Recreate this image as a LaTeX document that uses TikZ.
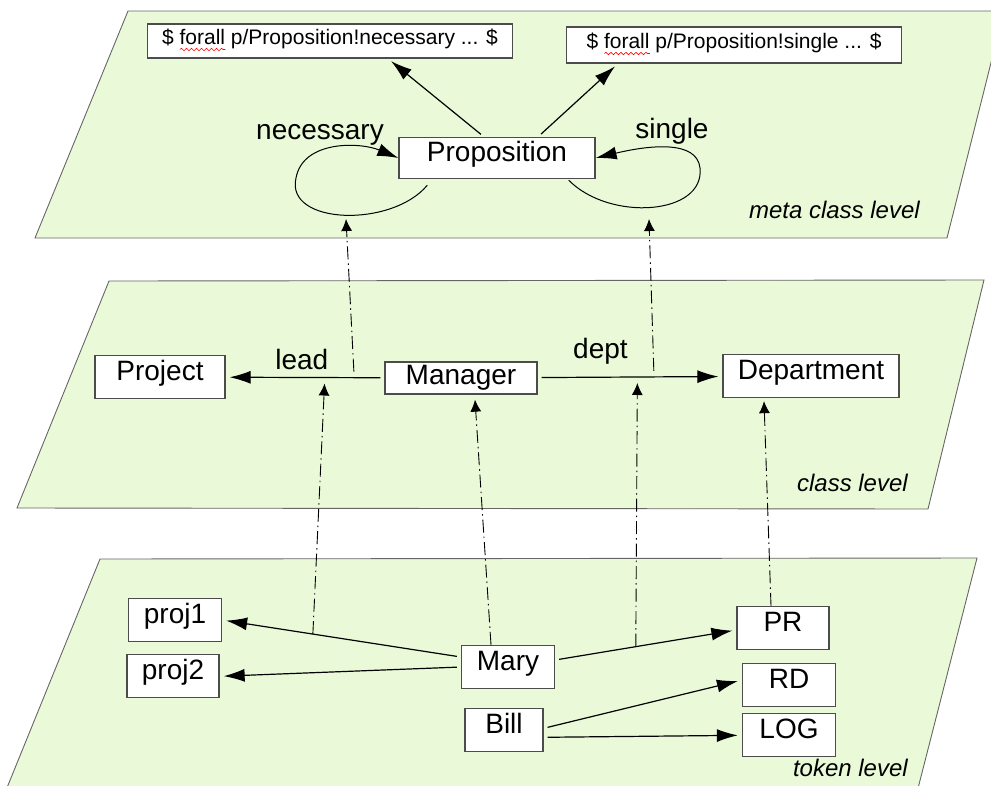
\documentclass[tikz,border=0pt]{standalone}
\usepackage{fontspec}
\setmainfont{Liberation Sans}
\usetikzlibrary{arrows.meta,positioning,decorations.pathmorphing}
\definecolor{planegreen}{RGB}{234,250,216}
\newcommand{\boxfont}{\fontsize{28}{32}\selectfont}
\newcommand{\formfont}{\fontsize{21}{25}\selectfont}
\newcommand{\levelfont}{\fontsize{24}{28}\selectfont\itshape}
% red wavy underline as left by the spell checker
\newsavebox{\errbox}
\newcommand{\spellerr}[1]{\sbox{\errbox}{#1}\rlap{\tikz[baseline=0pt]\draw[red, line width=0.6pt,
	decorate, decoration={snake, amplitude=1.2pt, segment length=5pt}] (0pt,-5pt) -- (\wd\errbox,-5pt);}\usebox{\errbox}}

\begin{document}
\begin{tikzpicture}[x=1pt,y=-1pt,>={Latex[length=21pt,width=13pt]}]
	\tikzset{plane/.style={draw=black!60, fill=planegreen, line width=0.9pt},
		box/.style={draw=black!70, fill=white, line width=1.3pt, inner sep=0pt, minimum height=43pt,
			text height=20pt, text depth=14pt, font=\boxfont},
		formula/.style={box, minimum height=34pt, text height=15pt, text depth=8pt, font=\formfont},
		assoc/.style={->, line width=1.2pt, shorten >=4pt, shorten <=4pt},
		instof/.style={-{Latex[length=12pt,width=11pt]}, line width=0.9pt, dash pattern=on 13pt off 4pt on 1.5pt off 4pt},
		lbl/.style={font=\boxfont, inner sep=0pt},
		level/.style={font=\levelfont, anchor=base east, inner sep=0pt},
	}
	\useasboundingbox (0,0) rectangle (991,785);
	\clip (0,0) rectangle (991,785);
	% the three levels
	\draw[plane] (128,11) -- (1004,11) -- (947,238) -- (35,238) -- cycle;
	\draw[plane] (109,281) -- (984,280) -- (928,509) -- (17,508) -- cycle;
	\draw[plane] (100,559) -- (977,558) -- (915,800) -- (2,800) -- cycle;

	% meta class level
	\node[box, minimum width=196pt, minimum height=41pt] (prop) at (497,158) {Proposition};
	\node[formula, minimum width=365pt] (nec) at (330,41) {\$ \spellerr{forall} p/Proposition!necessary ... \$};
	\node[formula, minimum width=335pt, minimum height=36pt] (sgl) at (734,45) {\$ \spellerr{forall} p/Proposition!single ... \$};
	\draw[assoc] ([xshift=-13pt]prop.north) -- ([xshift=58pt]nec.south);
	\draw[assoc] ([xshift=41pt]prop.north) -- ([xshift=-116pt]sgl.south);
	\draw[->, line width=1pt] ([xshift=29pt,yshift=-6pt]prop.south west) .. controls (392,228) and (285,225) .. (296,178)
		.. controls (303,140) and (360,142) .. (prop.west);
	\draw[->, line width=1pt] ([xshift=-27pt,yshift=-1pt]prop.south east) .. controls (610,222) and (705,215) .. (700,168)
		.. controls (697,140) and (650,145) .. (prop.east);
	\coordinate (necloop) at (346,219);
	\coordinate (sglloop) at (649,219);
	\node[lbl] (necl) at (320,135) {necessary};
	\node[lbl] (sgll) at (672,131) {single};
	\node[level] (metalvl) at (920,218) {meta class level};

	% class level
	\node[box, minimum width=152pt, minimum height=32pt, text depth=8pt] (mgr) at (461,378) {Manager};
	\node[box, minimum width=130pt] (proj) at (160,377) {Project};
	\node[box, minimum width=176pt] (dept) at (811,376) {Department};
	\draw[assoc] (mgr) -- coordinate[pos=0.19] (leadup) coordinate[pos=0.375] (leaddn)
		node[lbl, pos=0.52, above=7pt] (leadl) {lead} (proj);
	\draw[assoc] (mgr) -- coordinate[pos=0.63] (deptup) coordinate[pos=0.54] (deptdn)
		node[lbl, pos=0.34, above=12pt] (deptl) {dept} (dept);
	\node[level] (clslvl) at (908,491) {class level};

	% token level
	\node[box, minimum width=93pt] (mary) at (508,667) {Mary};
	\node[box, minimum width=78pt, below=19pt of mary, xshift=-4pt] (bill) {Bill};
	\node[box, minimum width=93pt] (proj1) at (175,620) {proj1};
	\node[box, minimum width=92pt, below=12pt of proj1, xshift=-2pt] (proj2) {proj2};
	\node[box, minimum width=92pt] (pr) at (783,628) {PR};
	\node[box, minimum width=93pt] (rd) at (789,685) {RD};
	\node[box, minimum width=93pt, below=6pt of rd] (log) {LOG};
	\draw[assoc] ([yshift=10pt]mary.west) -- coordinate[pos=0.62] (p1up) (proj1.east);
	\draw[assoc] (mary.west) -- (proj2.east);
	\draw[assoc] ([yshift=7pt]mary.east) -- coordinate[pos=0.445] (prup) ([yshift=-2pt]pr.west);
	\draw[assoc] ([yshift=2pt]bill.east) -- ([yshift=5pt]rd.west);
	\draw[assoc] ([yshift=-7pt]bill.east) -- (log.west);
	\node[level] (toklvl) at (908,776) {token level};

	% instance-of links between the levels
	\draw[instof, shorten >=6pt] (p1up) -- (leaddn);
	\draw[instof] ([xshift=-17pt]mary.north) -- ([xshift=14pt,yshift=-5pt]mgr.south);
	\draw[instof, shorten >=6pt] (prup) -- (deptdn);
	\draw[instof] ([xshift=-12pt]pr.north) -- ([xshift=-47pt,yshift=-3pt]dept.south);
	\draw[instof, shorten <=6pt] (leadup) -- (necloop);
	\draw[instof, shorten <=6pt] (deptup) -- (sglloop);
\end{tikzpicture}
\end{document}
